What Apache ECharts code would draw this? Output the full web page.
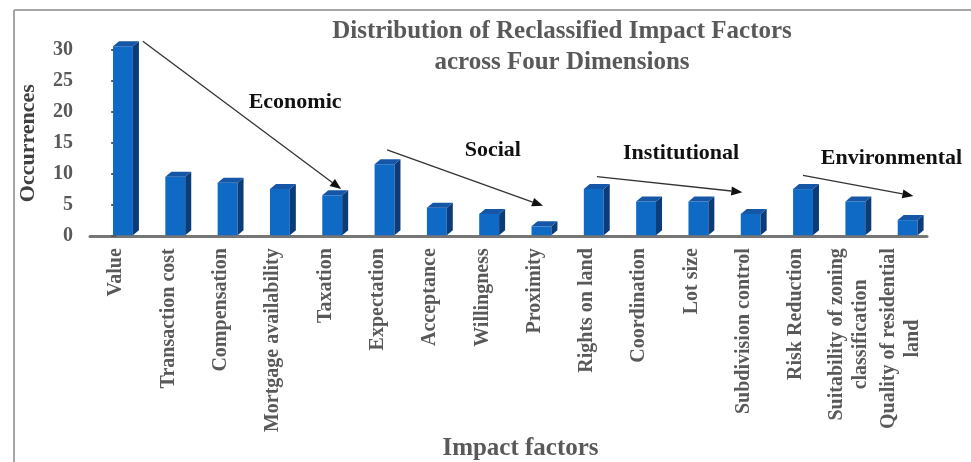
<!DOCTYPE html>
<html>
<head>
<meta charset="utf-8">
<script src="https://cdn.jsdelivr.net/npm/echarts@6/dist/echarts.min.js"></script>
<style>
  html, body { margin: 0; padding: 0; background: #fff; }
  #chart { width: 971px; height: 462px; }
</style>
</head>
<body>
<div id="chart"></div>
<script>
// impact factors, in display order
const categories = [
  'Value', 'Transaction cost', 'Compensation', 'Mortgage availability', 'Taxation',
  'Expectation', 'Acceptance', 'Willingness', 'Proximity',
  'Rights on land', 'Coordination', 'Lot size', 'Subdivision control',
  'Risk Reduction', 'Suitability of zoning\nclassification', 'Quality of residential\nland'
]
const occurrences = [31, 10, 9, 8, 7, 12, 5, 4, 2, 8, 6, 6, 4, 8, 6, 3]

// dimension annotations (arrow from/to and label spot, in category-index / value units)
const dimensionNames = ['Economic', 'Social', 'Institutional', 'Environmental']
const dimensionArrows = [
  [[0.51, 31.4], [4.3, 7.6]],
  [[5.18, 13.9], [8.16, 4.9]],
  [[9.19, 9.6], [11.97, 7.1]],
  [[13.13, 9.8], [15.24, 6.5]]
]
const dimensionLabelAt = [[3.42, 21.5], [7.2, 13.9], [10.8, 13.3], [14.82, 12.6]]

const serif = '"Liberation Serif", "Times New Roman", serif'
const grey = '#595959'

const chart = echarts.init(document.getElementById('chart'))

// 3d looking column: front face, dark side, top
const renderBar = (params, api) => {
  const idx = api.value(0)
  const v = api.value(1)
  const band = api.size([1, 0])[0]
  const base = api.coord([idx, 0])
  const top = api.coord([idx, v])
  const w = band * 0.38
  const d = band * 0.115
  const dy = 5
  const x0 = base[0] - band * 0.06
  const yb = base[1] - 1
  const yt = top[1] + dy / 2
  return {
    type: 'group',
    children: [
      {
        type: 'rect',
        shape: { x: x0, y: yt, width: w, height: yb - yt },
        style: { fill: '#0f6ac6' }
      },
      {
        type: 'polygon',
        shape: { points: [[x0 + w, yb], [x0 + w + d, yb - dy], [x0 + w + d, yt - dy], [x0 + w, yt]] },
        style: { fill: '#0b3c78' }
      },
      {
        type: 'polygon',
        shape: { points: [[x0, yt], [x0 + d, yt - dy], [x0 + w + d, yt - dy], [x0 + w, yt]] },
        style: { fill: '#1656a6' }
      }
    ]
  }
}

// arrow + dimension name
const renderArrow = (params, api) => {
  const p1 = api.coord([api.value(0), api.value(1)])
  const p2 = api.coord([api.value(2), api.value(3)])
  const lp = api.coord([api.value(4), api.value(5)])
  const ang = Math.atan2(p2[1] - p1[1], p2[0] - p1[0])
  const len = 11
  const half = 4.5
  const cx = Math.cos(ang)
  const sy = Math.sin(ang)
  const bx = p2[0] - len * cx
  const by = p2[1] - len * sy
  return {
    type: 'group',
    children: [
      {
        type: 'line',
        shape: { x1: p1[0], y1: p1[1], x2: bx, y2: by },
        style: { stroke: '#333', lineWidth: 1.3 }
      },
      {
        type: 'polygon',
        shape: { points: [p2, [bx - half * sy, by + half * cx], [bx + half * sy, by - half * cx]] },
        style: { fill: '#111' }
      },
      {
        type: 'text',
        x: lp[0],
        y: lp[1],
        style: {
          text: dimensionNames[params.dataIndex],
          align: 'center',
          verticalAlign: 'middle',
          font: 'bold 22px ' + serif,
          fill: '#111'
        }
      }
    ]
  }
}

chart.setOption({
  animation: false,
  title: {
    text: 'Distribution of Reclassified Impact Factors\nacross Four Dimensions',
    left: 557,
    top: 11,
    textAlign: 'center',
    textStyle: {
      fontFamily: serif,
      fontWeight: 'bold',
      fontSize: 25,
      lineHeight: 31,
      color: grey
    }
  },
  grid: {
    left: 90,
    right: 44,
    top: 50,
    bottom: 222
  },
  xAxis: [{
    type: 'category',
    data: categories,
    axisTick: { show: false },
    axisLine: { lineStyle: { color: '#767676', width: 3 } },
    axisLabel: {
      interval: 0,
      rotate: 90,
      margin: 12,
      formatter: (val) => val.split('\n').map(s => '{c|' + s + '}').join('\n'),
      rich: {
        c: {
          align: 'center',
          fontFamily: serif,
          fontWeight: 'bold',
          fontSize: 20,
          lineHeight: 24,
          color: grey
        }
      }
    },
    name: 'Impact factors',
    nameLocation: 'middle',
    nameGap: 194,
    nameTextStyle: {
      fontFamily: serif,
      fontWeight: 'bold',
      fontSize: 25,
      color: grey,
      padding: [0, 0, 0, 24]
    }
  }, {
    type: 'value',
    show: false,
    min: -0.5,
    max: 15.5
  }],
  yAxis: {
    type: 'value',
    min: 0,
    max: 30,
    interval: 5,
    splitLine: { show: false },
    axisLine: { show: true, lineStyle: { color: grey, width: 2 } },
    axisTick: { show: true, length: 5, lineStyle: { color: grey, width: 2 } },
    axisLabel: {
      margin: 17,
      fontFamily: serif,
      fontWeight: 'bold',
      fontSize: 20,
      color: grey
    },
    name: 'Occurrences',
    nameLocation: 'middle',
    nameRotate: 90,
    nameGap: 51,
    nameTextStyle: {
      fontFamily: serif,
      fontWeight: 'bold',
      fontSize: 22,
      color: '#404040'
    }
  },
  graphic: [
    { type: 'line', shape: { x1: 14, y1: 10, x2: 971, y2: 10 }, style: { stroke: '#a6a6a6', lineWidth: 2 } },
    { type: 'line', shape: { x1: 14, y1: 10, x2: 14, y2: 462 }, style: { stroke: '#a6a6a6', lineWidth: 2 } }
  ],
  series: [{
    type: 'custom',
    name: 'Occurrences',
    renderItem: renderBar,
    encode: { x: 0, y: 1 },
    data: occurrences.map((v, i) => [i, v])
  }, {
    type: 'custom',
    name: 'Dimensions',
    xAxisIndex: 1,
    silent: true,
    renderItem: renderArrow,
    encode: { x: [0, 2, 4], y: [1, 3, 5] },
    data: dimensionArrows.map((a, i) => [a[0][0], a[0][1], a[1][0], a[1][1], dimensionLabelAt[i][0], dimensionLabelAt[i][1]])
  }]
})
</script>
</body>
</html>
